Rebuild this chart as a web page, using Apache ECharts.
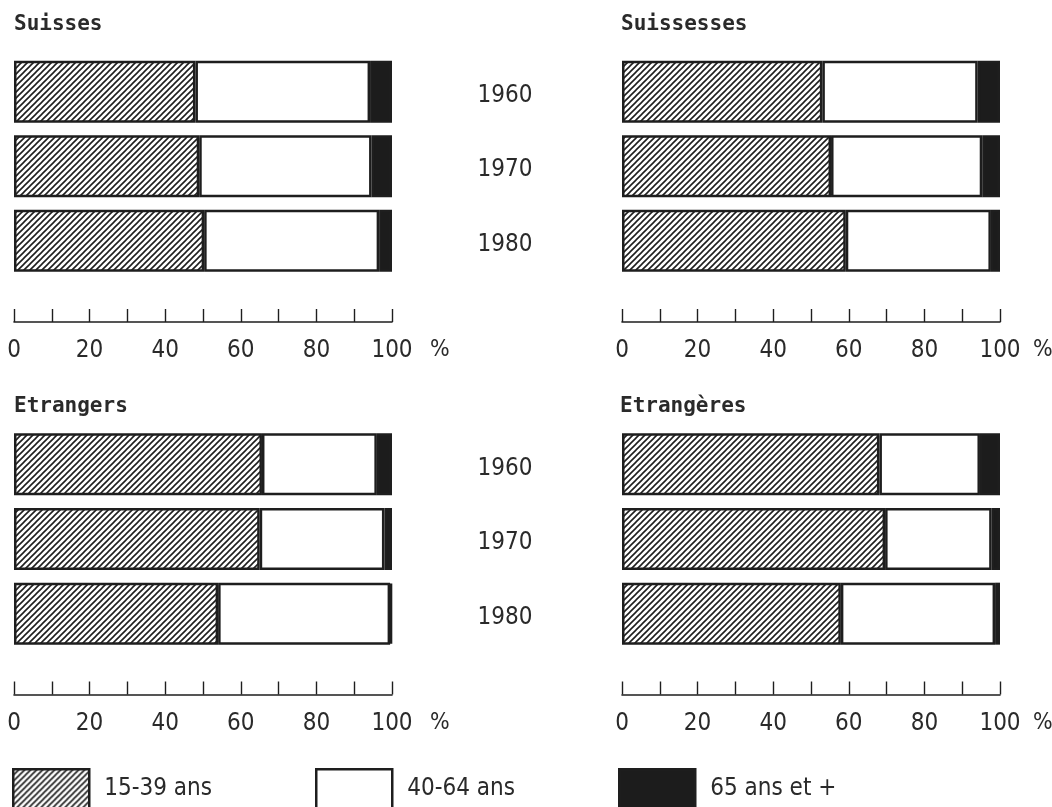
<!DOCTYPE html>
<html>
<head>
<meta charset="utf-8">
<script src="https://cdn.jsdelivr.net/npm/echarts@6/dist/echarts.min.js"></script>
<style>
html,body{margin:0;padding:0;background:#fff;}
#chart{width:1052px;height:807px;}
</style>
</head>
<body>
<div id="chart"></div>
<script>
// ---- data ----
const years = ['1960', '1970', '1980'];
const ageGroups = ['15-39 ans', '40-64 ans', '65 ans et +'];
const panelTitles = ['Suisses', 'Suissesses', 'Etrangers', 'Etrangères'];
const xTicks = [0, 20, 40, 60, 80, 100];

const suisses_15_39 = [48.0, 49.0, 50.3];
const suisses_40_64 = [46.2, 45.6, 46.3];
const suisses_65 = [5.8, 5.4, 3.4];

const suissesses_15_39 = [53.0, 55.3, 59.2];
const suissesses_40_64 = [41.1, 40.0, 38.4];
const suissesses_65 = [5.9, 4.7, 2.4];

const etrangers_15_39 = [65.6, 65.0, 54.0];
const etrangers_40_64 = [30.4, 33.0, 45.5];
const etrangers_65 = [4.0, 2.0, 0.5];

const etrangeres_15_39 = [68.1, 69.6, 57.9];
const etrangeres_40_64 = [26.6, 28.2, 40.8];
const etrangeres_65 = [5.3, 2.2, 1.3];

// ---- hatch pattern ----
function makeHatch() {
  const s = 6;
  const c = document.createElement('canvas');
  c.width = s; c.height = s;
  const ctx = c.getContext('2d');
  ctx.fillStyle = '#ffffff';
  ctx.fillRect(0, 0, s, s);
  ctx.strokeStyle = '#1e1e1e';
  ctx.lineWidth = 1.6;
  ctx.beginPath();
  ctx.moveTo(0, s); ctx.lineTo(s, 0);
  ctx.moveTo(-1, 1); ctx.lineTo(1, -1);
  ctx.moveTo(s - 1, s + 1); ctx.lineTo(s + 1, s - 1);
  ctx.stroke();
  return c;
}
const hatch = { image: makeHatch(), repeat: 'repeat' };

const labelFont = "'Liberation Sans Narrow','DejaVu Sans Condensed',sans-serif";
const titleFont = "'DejaVu Sans Mono','Liberation Mono',monospace";
const ink = '#1e1e1e';

const panels = [
  { data: [suisses_15_39, suisses_40_64, suisses_65], left: 14, top: 54.5, height: 223.5, axisY: 322, showYears: true, titleLeft: 9, titleTop: 9, pctGap: 38 },
  { data: [suissesses_15_39, suissesses_40_64, suissesses_65], left: 622, top: 54.5, height: 223.5, axisY: 322, showYears: false, titleLeft: 616, titleTop: 9, pctGap: 33 },
  { data: [etrangers_15_39, etrangers_40_64, etrangers_65], left: 14, top: 427, height: 224, axisY: 694.5, showYears: true, titleLeft: 9, titleTop: 391, pctGap: 38 },
  { data: [etrangeres_15_39, etrangeres_40_64, etrangeres_65], left: 622, top: 427, height: 224, axisY: 694.5, showYears: false, titleLeft: 615, titleTop: 391, pctGap: 33 }
];
const plotWidth = 378;

const grids = [], xAxes = [], yAxes = [], series = [], titles = [];
const fills = [hatch, '#ffffff', '#1c1c1c'];

panels.forEach((p, i) => {
  grids.push({ left: p.left, top: p.top, width: plotWidth, height: p.height, containLabel: false, outerBoundsMode: 'none' });
  xAxes.push({
    type: 'value', gridIndex: i, min: 0, max: 100, interval: 10,
    offset: p.axisY - (p.top + p.height),
    axisLine: { show: true, lineStyle: { color: ink, width: 1.6 } },
    axisTick: { show: true, inside: true, length: 13, lineStyle: { color: ink, width: 1.4 } },
    splitLine: { show: false },
    axisLabel: {
      margin: 17, color: '#2a2a2a', fontFamily: labelFont, fontSize: 24,
      formatter: v => (xTicks.indexOf(v) >= 0 ? String(v) : '')
    },
    name: '%', nameLocation: 'end', nameGap: p.pctGap,
    nameTextStyle: { color: '#2a2a2a', fontFamily: labelFont, fontSize: 23, verticalAlign: 'top', padding: [17, 0, 0, 0] }
  });
  yAxes.push({
    type: 'category', gridIndex: i, data: years, inverse: true,
    position: 'right',
    axisLine: { show: false }, axisTick: { show: false }, splitLine: { show: false },
    axisLabel: {
      show: p.showYears, margin: 113, align: 'center', color: '#2a2a2a',
      fontFamily: labelFont, fontSize: 24, verticalAlign: 'top', lineHeight: 8
    }
  });
  ageGroups.forEach((g, k) => {
    series.push({
      name: g, type: 'bar', stack: 'p' + i, xAxisIndex: i, yAxisIndex: i,
      barWidth: 62, data: p.data[k],
      itemStyle: { color: fills[k], borderColor: ink, borderWidth: 2.5 },
      emphasis: { disabled: true }, animation: false
    });
  });
  titles.push({
    text: panelTitles[i], left: p.titleLeft, top: p.titleTop,
    textStyle: { fontFamily: titleFont, fontWeight: 'bold', fontSize: 21, color: '#2a2a2a' }
  });
});

const legendLefts = [7, 310, 613];
const legends = ageGroups.map((g, k) => ({
  data: [{ name: g, icon: 'rect' }],
  left: legendLefts[k], top: 763,
  itemWidth: 76, itemHeight: 40,
  selectedMode: false,
  itemStyle: { color: fills[k], borderColor: ink, borderWidth: 2.5 },
  textStyle: { fontFamily: labelFont, fontSize: 24, color: '#2a2a2a', padding: [0, 0, 0, 10] }
}));

const chart = echarts.init(document.getElementById('chart'), null, { renderer: 'canvas' });
chart.setOption({
  backgroundColor: '#ffffff',
  animation: false,
  title: titles,
  legend: legends,
  grid: grids,
  xAxis: xAxes,
  yAxis: yAxes,
  series: series
});
</script>
</body>
</html>
